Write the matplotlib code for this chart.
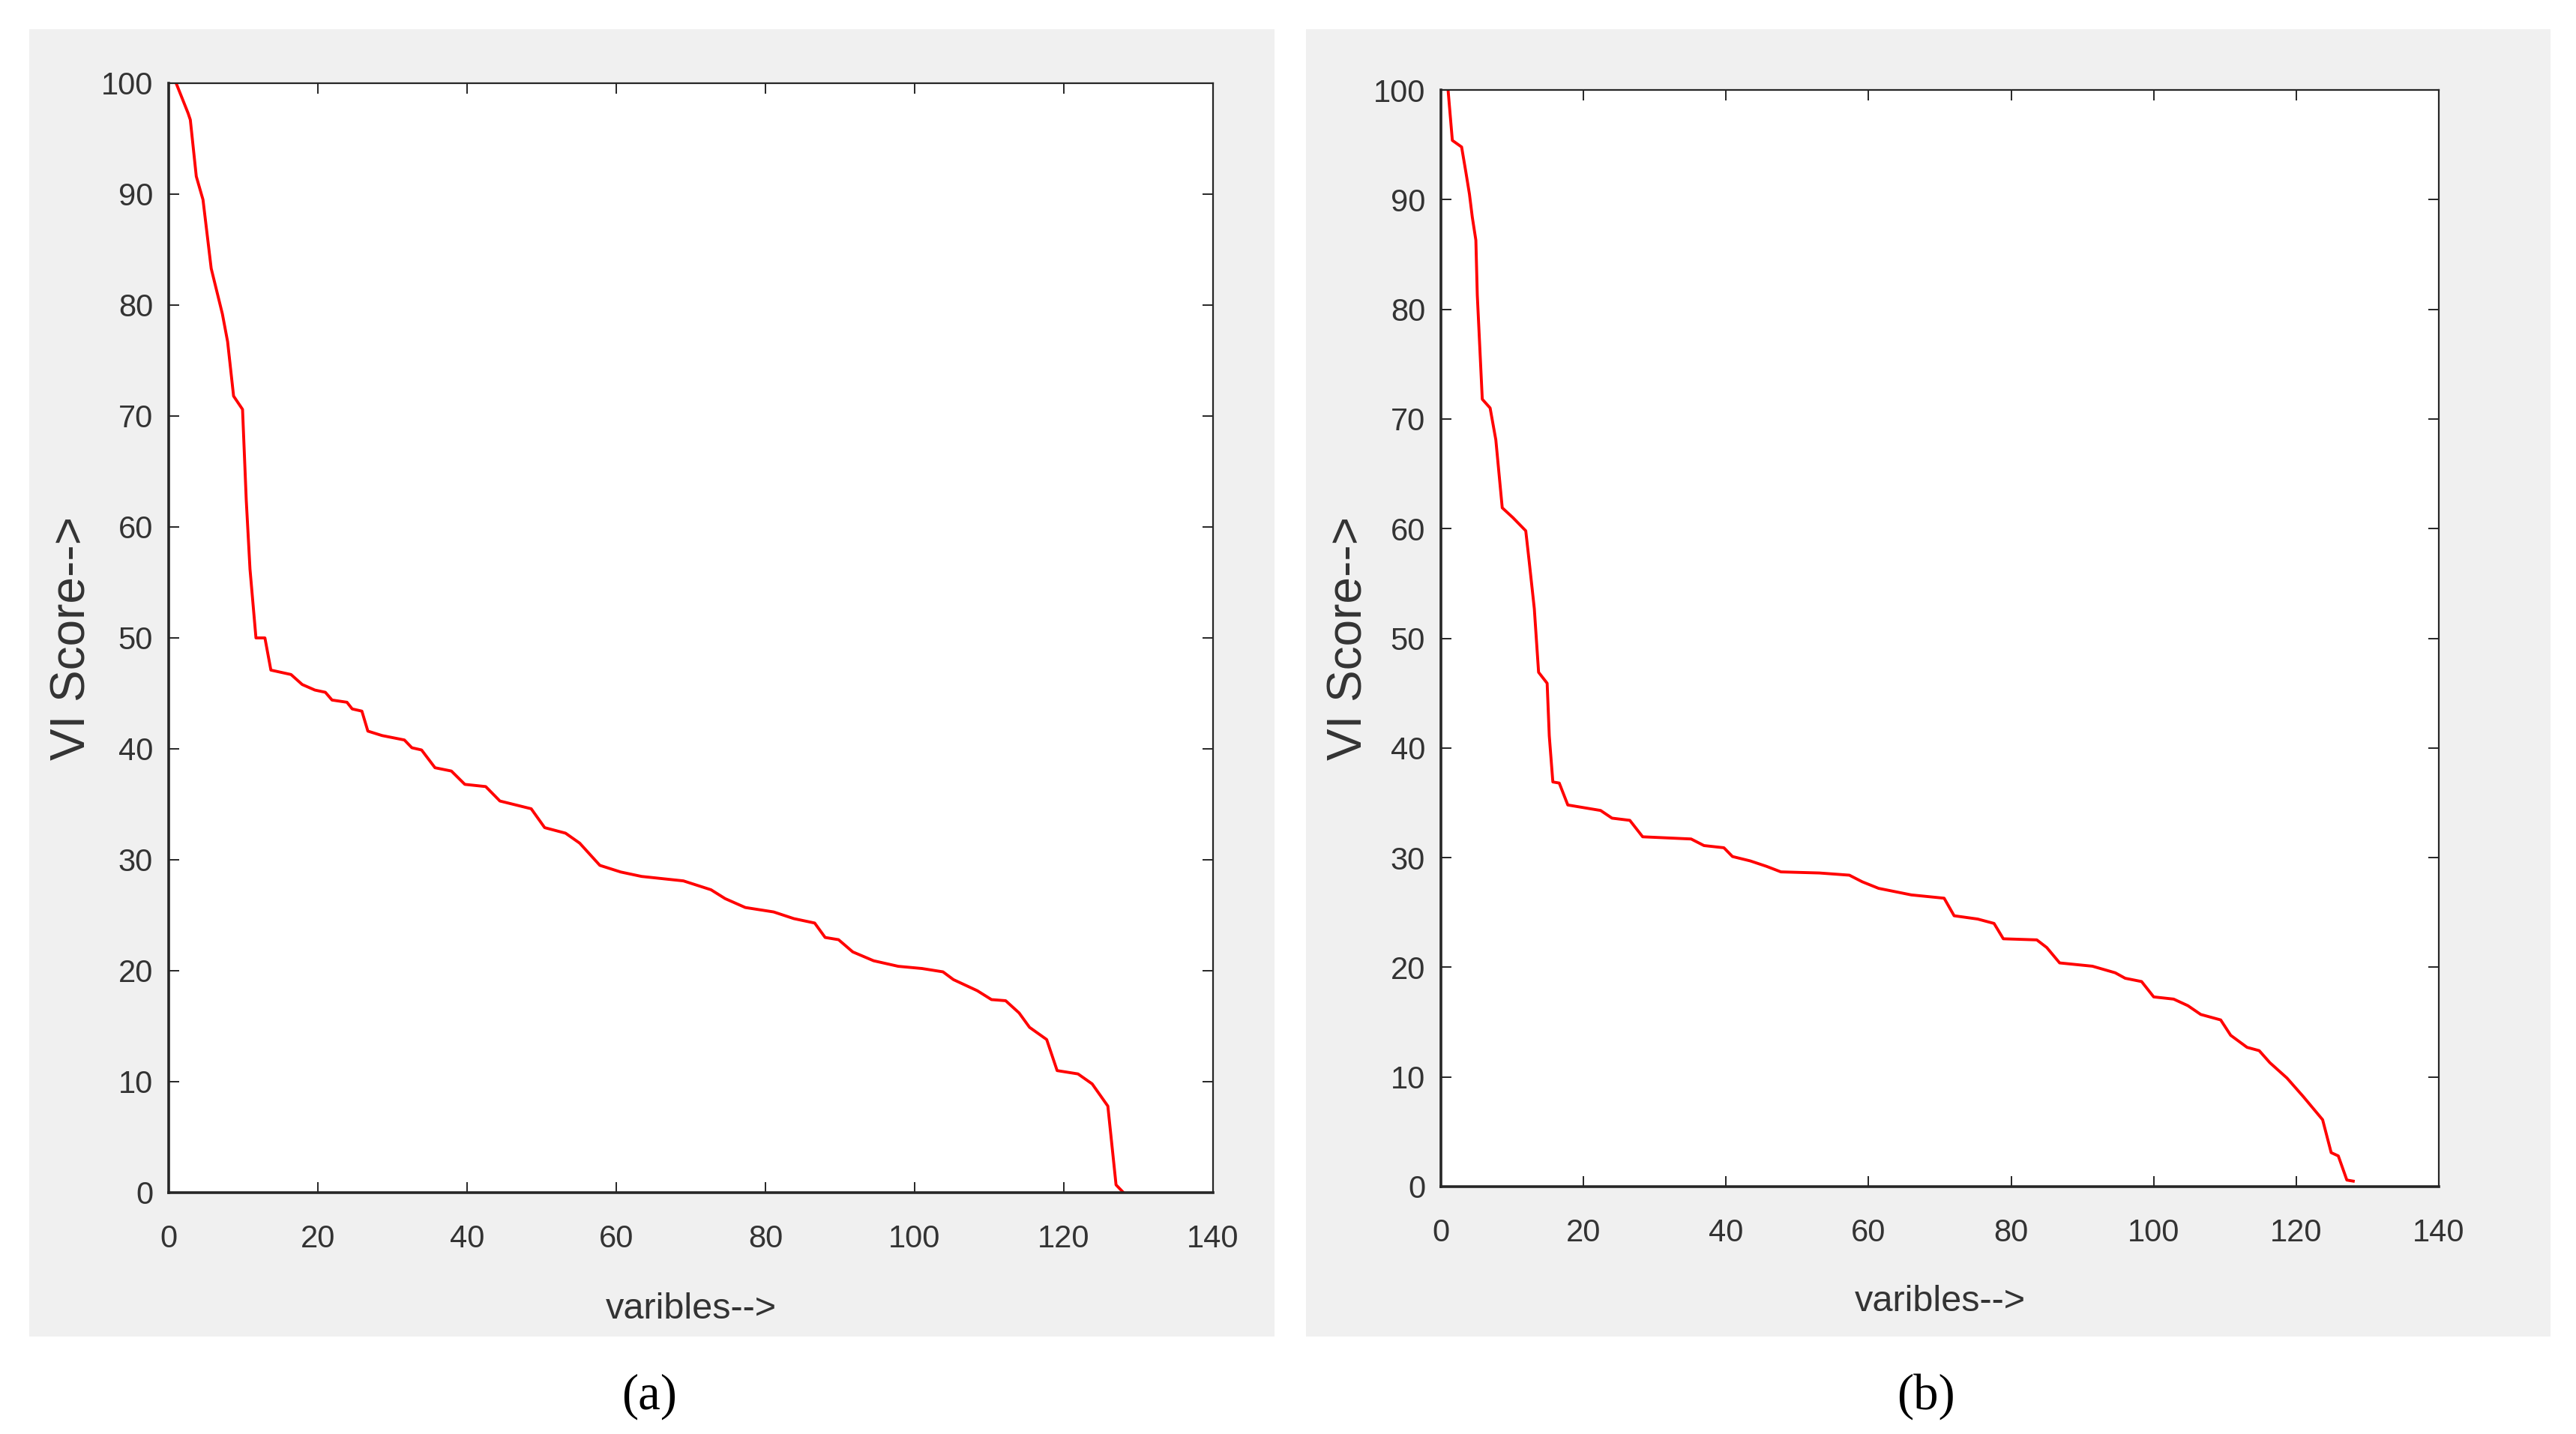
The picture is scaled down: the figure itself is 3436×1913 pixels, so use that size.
import matplotlib
matplotlib.use("Agg")
import matplotlib.pyplot as plt
from matplotlib.patches import Rectangle

vars_a = [1, 2.6, 2.9, 3.7, 4.6, 5.7, 7.2, 7.9, 8.7, 9.9, 10.4, 10.9, 11.7, 12.9,
          13.7, 16.4, 17.9, 19.6, 21, 21.9, 23.9, 24.6, 25.9, 26.7, 28.6, 31.6,
          32.6, 33.9, 35.7, 37.9, 39.7, 42.5, 44.4, 48.6, 50.4, 53.2, 55.1, 57.8,
          60.6, 63.4, 69, 72.7, 74.6, 77.3, 81.1, 83.8, 86.6, 88, 89.8, 91.7,
          94.5, 97.8, 101, 103.8, 105.2, 108.4, 110.3, 112.2, 114, 115.4, 117.7,
          119.1, 121.9, 123.8, 125.9, 127, 128]
score_a = [100, 97.3, 96.7, 91.6, 89.5, 83.3, 79.2, 76.7, 71.8, 70.6, 62.4, 56.2,
           50, 50, 47.1, 46.7, 45.8, 45.3, 45.1, 44.4, 44.2, 43.6, 43.4, 41.6,
           41.2, 40.8, 40.1, 39.9, 38.3, 38.0, 36.8, 36.6, 35.3, 34.6, 32.9,
           32.4, 31.5, 29.5, 28.9, 28.5, 28.1, 27.3, 26.5, 25.7, 25.3, 24.7,
           24.3, 23, 22.8, 21.7, 20.9, 20.4, 20.2, 19.9, 19.2, 18.2, 17.4, 17.3,
           16.2, 14.9, 13.8, 11.0, 10.7, 9.8, 7.8, 0.7, 0]

vars_b = [1, 1.6, 2.9, 3.5, 4.0, 4.4, 4.9, 5.1, 5.8, 6.9, 7.7, 8.6, 10.1, 11.9,
          12.4, 13.1, 13.7, 14.9, 15.2, 15.7, 16.6, 17.8, 22.4, 24, 26.5, 28.3,
          35.1, 36.9, 39.7, 40.9, 43.4, 45.7, 47.7, 53.1, 57.3, 59.1, 61.4, 66,
          70.6, 72.0, 75.3, 77.6, 78.9, 83.6, 85, 86.8, 91.4, 94.6, 96.0, 98.3,
          100, 102.8, 104.8, 106.6, 109.4, 110.8, 113.1, 114.8, 116.3, 118.7,
          121, 123.7, 124.9, 125.9, 127.1, 128]
score_b = [100, 95.4, 94.8, 92.5, 90.5, 88.4, 86.3, 81.3, 71.8, 71.0, 68.1, 61.9,
           61.0, 59.8, 56.9, 52.7, 46.9, 45.9, 41.1, 36.9, 36.8, 34.8, 34.3,
           33.6, 33.4, 31.9, 31.7, 31.1, 30.9, 30.1, 29.7, 29.2, 28.7, 28.6,
           28.4, 27.8, 27.2, 26.6, 26.3, 24.7, 24.4, 24, 22.6, 22.5, 21.8, 20.4,
           20.1, 19.5, 19.0, 18.7, 17.3, 17.1, 16.5, 15.7, 15.2, 13.8, 12.7,
           12.4, 11.3, 9.9, 8.2, 6.1, 3.1, 2.8, 0.6, 0.5]

x_ticks = [0, 20, 40, 60, 80, 100, 120, 140]
y_ticks = [0, 10, 20, 30, 40, 50, 60, 70, 80, 90, 100]
captions = ["(a)", "(b)"]

W, H = 3437, 1913
SANS = ["Liberation Sans Narrow", "Liberation Sans"]
INK = "#333333"


def box(x0, y0, x1, y1):
    # pixel box (top-left origin) -> figure fraction rect
    return [x0 / W, 1 - y1 / H, (x1 - x0) / W, (y1 - y0) / H]


def draw_panel(fig, bg, pos, xs, ys, caption, cap_xy):
    r = box(*bg)
    fig.add_artist(Rectangle((r[0], r[1]), r[2], r[3], transform=fig.transFigure,
                             facecolor="#f0f0f0", edgecolor="none", zorder=0))
    ax = fig.add_axes(box(*pos))
    ax.set_facecolor("white")
    ax.plot(xs, ys, color="red", lw=2.8)
    ax.set_xlim(0, 140)
    ax.set_ylim(0, 100)
    ax.set_xticks(x_ticks)
    ax.set_yticks(y_ticks)
    for sp in ax.spines.values():
        sp.set_color("#262626")
        sp.set_linewidth(1.6)
    ax.spines["bottom"].set_linewidth(2.6)
    ax.spines["left"].set_linewidth(2.6)
    ax.tick_params(direction="in", length=10, width=1.4, color="#262626",
                   top=True, right=True, labelcolor=INK)
    ax.tick_params(axis="x", pad=30)
    ax.tick_params(axis="y", pad=15)
    for lab in ax.get_xticklabels() + ax.get_yticklabels():
        lab.set_family(SANS)
        lab.set_fontsize(30)
    ax.set_xlabel("varibles-->", family=SANS, fontsize=35, color=INK)
    ax.xaxis.label.set_va("center")
    ax.xaxis.set_label_coords(0.5, -0.105)
    ax.set_ylabel("VI Score-->", family="Liberation Sans", fontsize=46, color=INK)
    ax.yaxis.label.set_va("center")
    ax.yaxis.set_label_coords(-0.092, 0.5)
    fig.text(cap_xy[0] / W, 1 - cap_xy[1] / H, caption, ha="center", va="center",
             family="Liberation Serif", fontsize=48, color="black")
    return ax


fig = plt.figure(figsize=(W / 100, H / 100), dpi=100)
fig.patch.set_facecolor("white")

draw_panel(fig, (39, 39, 1700, 1783), (225, 111, 1618, 1591),
           vars_a, score_a, captions[0], (866, 1863))
draw_panel(fig, (1742, 39, 3402, 1783), (1922, 120, 3253, 1583),
           vars_b, score_b, captions[1], (2569, 1863))

fig.savefig("out.png", dpi=100, facecolor="white")
